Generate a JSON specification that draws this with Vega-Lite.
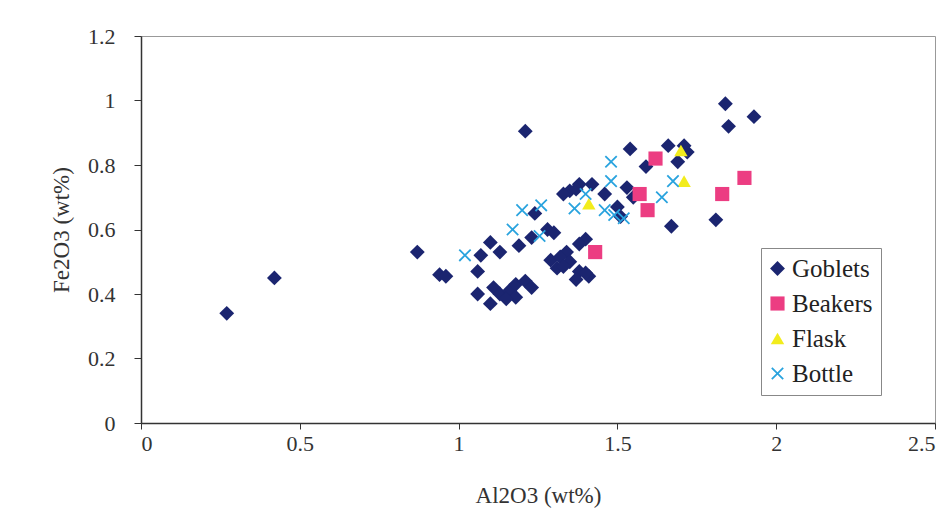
{
  "$schema": "https://vega.github.io/schema/vega-lite/v6.json",
  "width": 794,
  "height": 387,
  "autosize": {"type": "none"},
  "padding": {"left": 141, "top": 36, "right": 14, "bottom": 85},
  "background": "white",
  "config": {
    "view": {"stroke": "#999", "strokeWidth": 1},
    "font": "Liberation Serif"
  },
  "data": {
    "values": [
      {"al": 0.27, "fe": 0.34, "type": "Goblets"},
      {"al": 0.42, "fe": 0.45, "type": "Goblets"},
      {"al": 0.87, "fe": 0.53, "type": "Goblets"},
      {"al": 0.94, "fe": 0.46, "type": "Goblets"},
      {"al": 0.96, "fe": 0.455, "type": "Goblets"},
      {"al": 1.07, "fe": 0.52, "type": "Goblets"},
      {"al": 1.06, "fe": 0.47, "type": "Goblets"},
      {"al": 1.10, "fe": 0.56, "type": "Goblets"},
      {"al": 1.13, "fe": 0.53, "type": "Goblets"},
      {"al": 1.19, "fe": 0.55, "type": "Goblets"},
      {"al": 1.23, "fe": 0.575, "type": "Goblets"},
      {"al": 1.28, "fe": 0.60, "type": "Goblets"},
      {"al": 1.30, "fe": 0.59, "type": "Goblets"},
      {"al": 1.24, "fe": 0.65, "type": "Goblets"},
      {"al": 1.21, "fe": 0.905, "type": "Goblets"},
      {"al": 1.29, "fe": 0.505, "type": "Goblets"},
      {"al": 1.31, "fe": 0.48, "type": "Goblets"},
      {"al": 1.06, "fe": 0.40, "type": "Goblets"},
      {"al": 1.11, "fe": 0.42, "type": "Goblets"},
      {"al": 1.10, "fe": 0.37, "type": "Goblets"},
      {"al": 1.13, "fe": 0.40, "type": "Goblets"},
      {"al": 1.16, "fe": 0.41, "type": "Goblets"},
      {"al": 1.18, "fe": 0.43, "type": "Goblets"},
      {"al": 1.21, "fe": 0.44, "type": "Goblets"},
      {"al": 1.18, "fe": 0.39, "type": "Goblets"},
      {"al": 1.23, "fe": 0.42, "type": "Goblets"},
      {"al": 1.15, "fe": 0.385, "type": "Goblets"},
      {"al": 1.35, "fe": 0.72, "type": "Goblets"},
      {"al": 1.33, "fe": 0.71, "type": "Goblets"},
      {"al": 1.38, "fe": 0.74, "type": "Goblets"},
      {"al": 1.42, "fe": 0.74, "type": "Goblets"},
      {"al": 1.37, "fe": 0.725, "type": "Goblets"},
      {"al": 1.46, "fe": 0.71, "type": "Goblets"},
      {"al": 1.53, "fe": 0.73, "type": "Goblets"},
      {"al": 1.55, "fe": 0.70, "type": "Goblets"},
      {"al": 1.50, "fe": 0.67, "type": "Goblets"},
      {"al": 1.51, "fe": 0.64, "type": "Goblets"},
      {"al": 1.54, "fe": 0.85, "type": "Goblets"},
      {"al": 1.59, "fe": 0.795, "type": "Goblets"},
      {"al": 1.66, "fe": 0.86, "type": "Goblets"},
      {"al": 1.72, "fe": 0.84, "type": "Goblets"},
      {"al": 1.69, "fe": 0.81, "type": "Goblets"},
      {"al": 1.71, "fe": 0.86, "type": "Goblets"},
      {"al": 1.84, "fe": 0.99, "type": "Goblets"},
      {"al": 1.93, "fe": 0.95, "type": "Goblets"},
      {"al": 1.85, "fe": 0.92, "type": "Goblets"},
      {"al": 1.81, "fe": 0.63, "type": "Goblets"},
      {"al": 1.67, "fe": 0.61, "type": "Goblets"},
      {"al": 1.40, "fe": 0.57, "type": "Goblets"},
      {"al": 1.38, "fe": 0.555, "type": "Goblets"},
      {"al": 1.34, "fe": 0.53, "type": "Goblets"},
      {"al": 1.32, "fe": 0.515, "type": "Goblets"},
      {"al": 1.35, "fe": 0.50, "type": "Goblets"},
      {"al": 1.33, "fe": 0.485, "type": "Goblets"},
      {"al": 1.38, "fe": 0.47, "type": "Goblets"},
      {"al": 1.37, "fe": 0.445, "type": "Goblets"},
      {"al": 1.41, "fe": 0.455, "type": "Goblets"},
      {"al": 1.40, "fe": 0.465, "type": "Goblets"},
      {"al": 1.62, "fe": 0.82, "type": "Beakers"},
      {"al": 1.57, "fe": 0.71, "type": "Beakers"},
      {"al": 1.595, "fe": 0.66, "type": "Beakers"},
      {"al": 1.43, "fe": 0.53, "type": "Beakers"},
      {"al": 1.83, "fe": 0.71, "type": "Beakers"},
      {"al": 1.90, "fe": 0.76, "type": "Beakers"},
      {"al": 1.41, "fe": 0.68, "type": "Flask"},
      {"al": 1.70, "fe": 0.845, "type": "Flask"},
      {"al": 1.71, "fe": 0.75, "type": "Flask"},
      {"al": 1.02, "fe": 0.52, "type": "Bottle"},
      {"al": 1.17, "fe": 0.60, "type": "Bottle"},
      {"al": 1.20, "fe": 0.66, "type": "Bottle"},
      {"al": 1.26, "fe": 0.675, "type": "Bottle"},
      {"al": 1.255, "fe": 0.58, "type": "Bottle"},
      {"al": 1.365, "fe": 0.665, "type": "Bottle"},
      {"al": 1.40, "fe": 0.71, "type": "Bottle"},
      {"al": 1.48, "fe": 0.81, "type": "Bottle"},
      {"al": 1.48, "fe": 0.75, "type": "Bottle"},
      {"al": 1.46, "fe": 0.66, "type": "Bottle"},
      {"al": 1.49, "fe": 0.645, "type": "Bottle"},
      {"al": 1.52, "fe": 0.635, "type": "Bottle"},
      {"al": 1.675, "fe": 0.75, "type": "Bottle"},
      {"al": 1.64, "fe": 0.70, "type": "Bottle"}
    ]
  },
  "mark": {"type": "point", "filled": true, "opacity": 1},
  "encoding": {
    "x": {
      "field": "al",
      "type": "quantitative",
      "scale": {"domain": [0, 2.5], "nice": false, "zero": true},
      "axis": {
        "title": "Al2O3 (wt%)",
        "values": [0, 0.5, 1, 1.5, 2, 2.5],
        "format": "~g",
        "grid": false,
        "domainColor": "#333",
        "domainWidth": 1.5,
        "tickColor": "#333",
        "tickSize": 6,
        "labelFont": "Liberation Serif",
        "labelFontSize": 22,
        "labelColor": "#333",
        "labelPadding": 4,
        "titleFont": "Liberation Serif",
        "titleFontSize": 23,
        "titleFontWeight": "normal",
        "titleColor": "#333",
        "titlePadding": 30
      }
    },
    "y": {
      "field": "fe",
      "type": "quantitative",
      "scale": {"domain": [0, 1.2], "nice": false, "zero": true},
      "axis": {
        "title": "Fe2O3 (wt%)",
        "values": [0, 0.2, 0.4, 0.6, 0.8, 1, 1.2],
        "format": "~g",
        "grid": false,
        "domainColor": "#333",
        "domainWidth": 1.5,
        "tickColor": "#333",
        "tickSize": 7,
        "labelFont": "Liberation Serif",
        "labelFontSize": 22,
        "labelColor": "#333",
        "labelPadding": 19,
        "titleFont": "Liberation Serif",
        "titleFontSize": 23,
        "titleFontWeight": "normal",
        "titleColor": "#333",
        "titlePadding": 14
      }
    },
    "color": {
      "field": "type",
      "type": "nominal",
      "scale": {
        "domain": ["Goblets", "Beakers", "Flask", "Bottle"],
        "range": ["#1b2570", "#ec3d82", "#f2ec1c", "#29a3de"]
      },
      "legend": {
        "title": null,
        "orient": "none",
        "legendX": 620,
        "legendY": 212,
        "strokeColor": "#888",
        "fillColor": "white",
        "padding": 8,
        "rowPadding": 9,
        "labelFont": "Liberation Serif",
        "labelFontSize": 25,
        "labelColor": "#222",
        "symbolSize": 170,
        "symbolOffset": -4,
        "labelOffset": 2
      }
    },
    "shape": {
      "field": "type",
      "type": "nominal",
      "scale": {
        "domain": ["Goblets", "Beakers", "Flask", "Bottle"],
        "range": ["diamond", "square", "triangle-up", "M -1,-0.8 L -0.8,-1 L 0,-0.2 L 0.8,-1 L 1,-0.8 L 0.2,0 L 1,0.8 L 0.8,1 L 0,0.2 L -0.8,1 L -1,0.8 L -0.2,0 Z"]
      }
    },
    "size": {
      "field": "type",
      "type": "nominal",
      "scale": {
        "domain": ["Goblets", "Beakers", "Flask", "Bottle"],
        "range": [220, 160, 190, 190]
      },
      "legend": null
    }
  }
}
